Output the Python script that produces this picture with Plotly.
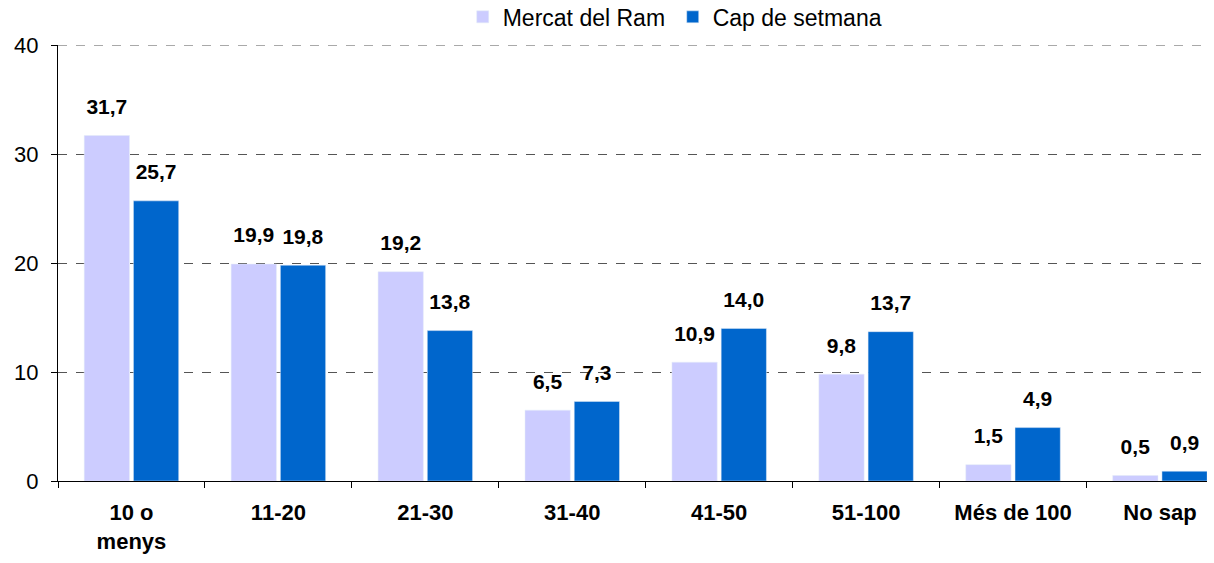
import plotly.graph_objects as go

categories = ["10 o<br>menys", "11-20", "21-30", "31-40", "41-50", "51-100", "Més de 100", "No sap"]
mercat_ram = [31.7, 19.9, 19.2, 6.5, 10.9, 9.8, 1.5, 0.5]
cap_setmana = [25.7, 19.8, 13.8, 7.3, 14.0, 13.7, 4.9, 0.9]
y_ticks = [0, 10, 20, 30, 40]

label_tpl = "<span style='font-size:21px'><b>%{y:.1f}</b></span><br> "

fig = go.Figure()
fig.add_trace(go.Bar(name="Mercat del Ram", x=categories, y=mercat_ram,
                     marker_color="#CCCCFF",
                     texttemplate=label_tpl, textposition="outside", constraintext="none",
                     textfont=dict(size=12, color="black"), cliponaxis=False))
fig.add_trace(go.Bar(name="Cap de setmana", x=categories, y=cap_setmana,
                     marker_color="#0066CC",
                     texttemplate=label_tpl, textposition="outside", constraintext="none",
                     textfont=dict(size=12, color="black"), cliponaxis=False))

fig.add_shape(type="line", xref="paper", yref="y", x0=0, x1=1, y0=y_ticks[-1], y1=y_ticks[-1],
              line=dict(color="#555555", width=1, dash="dash"), layer="below")

fig.update_layout(
    width=1214, height=563,
    separators=",.",
    barmode="group", bargap=0.33, bargroupgap=0.08,
    plot_bgcolor="white", paper_bgcolor="white",
    font=dict(family="Liberation Sans, Arial, sans-serif", size=18, color="black"),
    margin=dict(l=58, r=7, t=45, b=82, autoexpand=False),
    legend=dict(orientation="h", x=0.535, xanchor="center", yref="container", y=0.97, yanchor="middle",
                font=dict(size=23), traceorder="normal", entrywidth=165, itemwidth=30),
    xaxis=dict(range=[-0.5, 7.32], showline=True, linecolor="black", linewidth=1,
               ticks="outside", tickson="boundaries", ticklen=6, tickcolor="black",
               automargin=False, ticklabelstandoff=12,
               tickfont=dict(size=22, family="Liberation Sans, Arial, sans-serif", weight="bold")),
    yaxis=dict(range=[0, 40], tickvals=y_ticks, showline=True, linecolor="black", linewidth=1,
               ticks="outside", ticklen=6, tickcolor="black", automargin=False,
               ticklabelstandoff=8,
               showgrid=True, gridcolor="#555555", griddash="dash", gridwidth=1,
               zeroline=False, tickfont=dict(size=22)),
)

fig.write_html("out.html", config={"displayModeBar": False},
               post_script="document.body.style.margin='0';document.body.style.overflow='hidden';")
